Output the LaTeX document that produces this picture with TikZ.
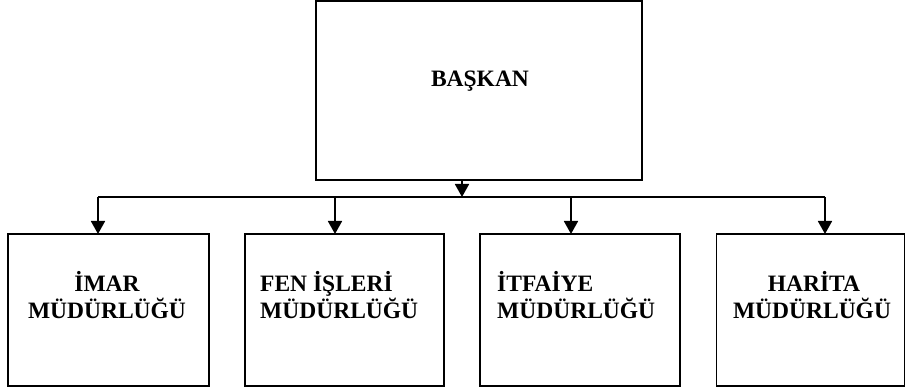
\documentclass[tikz,border=0pt]{standalone}
\usepackage{fontspec}
\setmainfont{Liberation Serif}
\usetikzlibrary{arrows.meta}
\begin{document}
\begin{tikzpicture}[x=1pt,y=-1pt,
  box/.style={draw=black,line width=1.8pt,rectangle,inner sep=0pt,outer sep=0pt},
  lbl/.style={inner sep=0pt,font=\fontsize{23.5}{27}\selectfont\bfseries},
  conn/.style={line width=1.8pt},
  arr/.style={line width=1.8pt,-{Triangle[width=14pt,length=13pt]}}]
\useasboundingbox (0,0) rectangle (906,390);
% boxes
\node[box,minimum width=326pt,minimum height=179pt] (boss) at (479,90.5) {};
\node[box,minimum width=201pt,minimum height=152pt] (b1) at (108.5,310) {};
\node[box,minimum width=199pt,minimum height=152pt] (b2) at (344.5,310) {};
\node[box,minimum width=200pt,minimum height=152pt] (b3) at (580,310) {};
\node[box,minimum width=188pt,minimum height=152pt] (b4) at (810.5,310) {};
% texts
\node[lbl,anchor=base] (t0) at (480,87) {BAŞKAN};
\node[lbl,anchor=base] (t1a) at (107,292) {İMAR};
\node[lbl,anchor=base] (t1b) at (107,319) {MÜDÜRLÜĞÜ};
\node[lbl,anchor=base west] (t2a) at (260,292) {FEN İŞLERİ};
\node[lbl,anchor=base west] (t2b) at (260,319) {MÜDÜRLÜĞÜ};
\node[lbl,anchor=base west] (t3a) at (497,292) {İTFAİYE};
\node[lbl,anchor=base west] (t3b) at (497,319) {MÜDÜRLÜĞÜ};
\node[lbl,anchor=base] (t4a) at (814,292) {HARİTA};
\node[lbl,anchor=base] (t4b) at (812,319) {MÜDÜRLÜĞÜ};
% connectors
\coordinate (hc) at (462,197);
\coordinate (h1) at (98,197);
\coordinate (h2) at (335,197);
\coordinate (h3) at (571,197);
\coordinate (h4) at (825,197);
\draw[arr] (boss.south -| hc) -- (hc);
\draw[conn] (h1) -- (h4);
\draw[arr] (h1) -- (h1 |- b1.north);
\draw[arr] (h2) -- (h2 |- b2.north);
\draw[arr] (h3) -- (h3 |- b3.north);
\draw[arr] (h4) -- (h4 |- b4.north);
\end{tikzpicture}
\end{document}
